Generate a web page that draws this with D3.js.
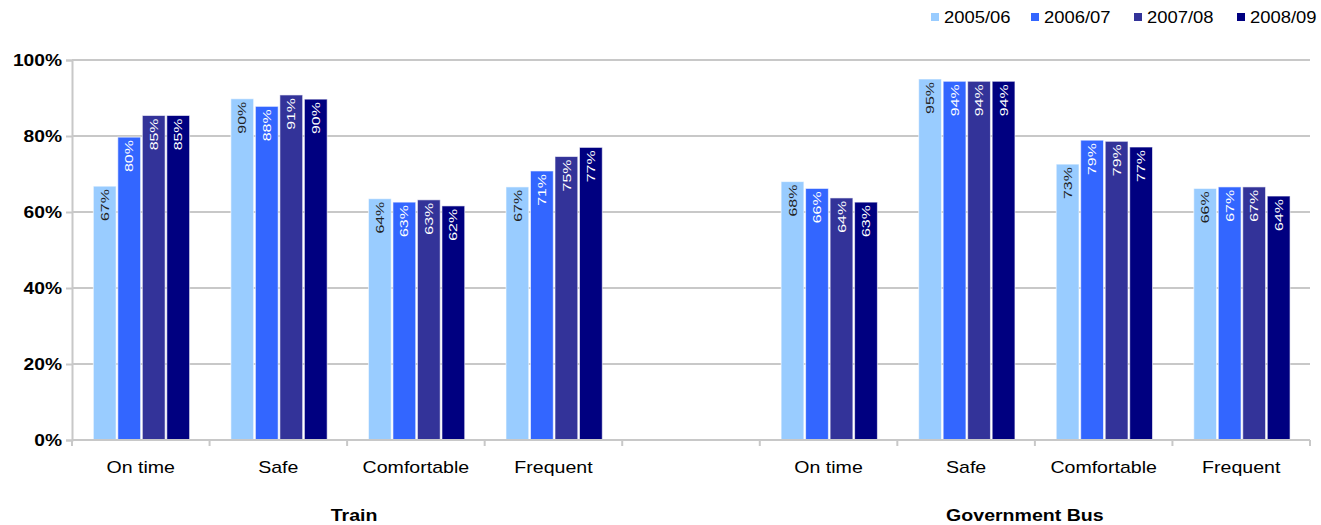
<!DOCTYPE html>
<html>
<head>
<meta charset="utf-8">
<script src="https://cdn.jsdelivr.net/npm/d3@7"></script>
<style>
  body { margin: 0; background: #fff; }
  svg { display: block; font-family: "Liberation Sans", Arial, sans-serif; }
</style>
</head>
<body>
<svg id="chart" width="1321" height="525"></svg>
<script>
// ---- data ----
const categories = ["On time", "Safe", "Comfortable", "Frequent"];
const groups = ["Train", "Government Bus"];
const seriesNames = ["2005/06", "2006/07", "2007/08", "2008/09"];
const seriesColors = ["#99CCFF", "#3366FF", "#333399", "#000080"];
// values: Train (On time, Safe, Comfortable, Frequent), then Government Bus (same order)
const s200506 = [66.8, 89.8, 63.5, 66.6, 68.0, 95.0, 72.6, 66.2];
const s200607 = [79.7, 87.8, 62.6, 70.8, 66.2, 94.4, 78.9, 66.6];
const s200708 = [85.4, 90.8, 63.2, 74.6, 63.7, 94.4, 78.6, 66.6];
const s200809 = [85.4, 89.7, 61.6, 77.0, 62.6, 94.4, 77.1, 64.2];
const yTicks = [0, 20, 40, 60, 80, 100];

const seriesValues = [s200506, s200607, s200708, s200809];

// slots: 4 train categories, a gap, 4 bus categories
const slots = [];
groups.forEach((g, gi) => {
  if (gi > 0) slots.push({ key: "gap" + gi, gap: true });
  categories.forEach((c, ci) => slots.push({ key: g + "|" + c, group: g, cat: c, idx: gi * categories.length + ci }));
});

const svg = d3.select("#chart");
const mLeft = 72, mRight = 1310, mTop = 60, mBottom = 440;

const x = d3.scaleBand().domain(slots.map(s => s.key)).range([mLeft, mRight]).padding(0);
const bw = x.bandwidth();
const x1 = d3.scaleBand().domain(seriesNames).range([bw * 0.155, bw * 0.855]).paddingInner(0.07);
const y = d3.scaleLinear().domain([0, 100]).range([mBottom, mTop]);

const gridColor = "#c8c8c8";

// widen text horizontally (the reference typeface is wider than Liberation Sans)
function stretch(sel, k) {
  sel.each(function () {
    const l = this.getComputedTextLength();
    d3.select(this).attr("textLength", l * k).attr("lengthAdjust", "spacingAndGlyphs");
  });
}

// gridlines
svg.append("g").selectAll("line").data(yTicks.filter(t => t > 0)).join("line")
  .attr("x1", mLeft).attr("x2", mRight)
  .attr("y1", d => y(d)).attr("y2", d => y(d))
  .attr("stroke", gridColor).attr("stroke-width", 2);

// y axis
const yAxis = d3.axisLeft(y).tickValues(yTicks).tickFormat(d => d + "%").tickSize(6).tickPadding(4);
const gy = svg.append("g").attr("transform", `translate(${mLeft},0)`).call(yAxis);
gy.select(".domain").attr("stroke", gridColor).attr("stroke-width", 2);
gy.selectAll(".tick line").attr("stroke", gridColor).attr("stroke-width", 2);
gy.selectAll(".tick text").attr("font-family", "Liberation Sans, Arial, sans-serif")
  .attr("font-size", 16).attr("font-weight", "bold").attr("fill", "#000");
stretch(gy.selectAll(".tick text"), 1.2);

// bars
const barData = [];
slots.filter(s => !s.gap).forEach(s => {
  seriesNames.forEach((n, si) => {
    barData.push({ slot: s.key, series: n, si, value: seriesValues[si][s.idx] });
  });
});

const bars = svg.append("g");
bars.selectAll("rect").data(barData).join("rect")
  .attr("x", d => x(d.slot) + x1(d.series))
  .attr("width", x1.bandwidth())
  .attr("y", d => y(d.value))
  .attr("height", d => y(0) - y(d.value))
  .attr("fill", d => seriesColors[d.si])
  .attr("stroke", "#ffffff").attr("stroke-opacity", 0.6).attr("stroke-width", 1);

// value labels
bars.selectAll("text").data(barData).join("text")
  .attr("transform", d => `translate(${x(d.slot) + x1(d.series) + x1.bandwidth() / 2},${y(d.value) + 3}) rotate(-90) scale(1.45,1.05)`)
  .attr("text-anchor", "end")
  .attr("dominant-baseline", "central")
  .attr("font-size", 11)
  .attr("fill", d => d.si === 0 ? "#222" : "#fff")
  .text(d => Math.round(d.value) + "%");

// x axis line and ticks at slot boundaries
const boundaries = slots.map(s => x(s.key)).concat([mRight]);
svg.append("line").attr("x1", mLeft).attr("x2", mRight).attr("y1", mBottom).attr("y2", mBottom)
  .attr("stroke", gridColor).attr("stroke-width", 2);
svg.append("g").selectAll("line").data(boundaries).join("line")
  .attr("x1", d => d).attr("x2", d => d).attr("y1", mBottom).attr("y2", mBottom + 6)
  .attr("stroke", gridColor).attr("stroke-width", 2);

// category labels
const catText = svg.append("g").selectAll("text").data(slots.filter(s => !s.gap)).join("text")
  .attr("x", d => x(d.key) + bw / 2)
  .attr("y", 473)
  .attr("text-anchor", "middle")
  .attr("font-size", 17)
  .attr("fill", "#000")
  .text(d => d.cat);
stretch(catText, 1.15);

// group labels
const grpText = svg.append("g").selectAll("text").data(groups).join("text")
  .attr("x", g => {
    const ks = slots.filter(s => s.group === g);
    return (x(ks[0].key) + x(ks[ks.length - 1].key) + bw) / 2 + (g === "Train" ? 7 : -10);
  })
  .attr("y", 521)
  .attr("text-anchor", "middle")
  .attr("font-size", 17)
  .attr("font-weight", "bold")
  .attr("fill", "#000")
  .text(g => g);
stretch(grpText, 1.15);

// legend
const legendX = [931, 1031, 1134, 1237];
const lg = svg.append("g").selectAll("g").data(seriesNames).join("g")
  .attr("transform", (d, i) => `translate(${legendX[i]},17)`);
lg.append("rect").attr("x", 0).attr("y", -4).attr("width", 8).attr("height", 8)
  .attr("fill", (d, i) => seriesColors[i]);
const lgText = lg.append("text").attr("x", 13).attr("y", 0).attr("dominant-baseline", "central")
  .attr("font-size", 16).attr("fill", "#000").text(d => d);
stretch(lgText, 1.15);
</script>
</body>
</html>
